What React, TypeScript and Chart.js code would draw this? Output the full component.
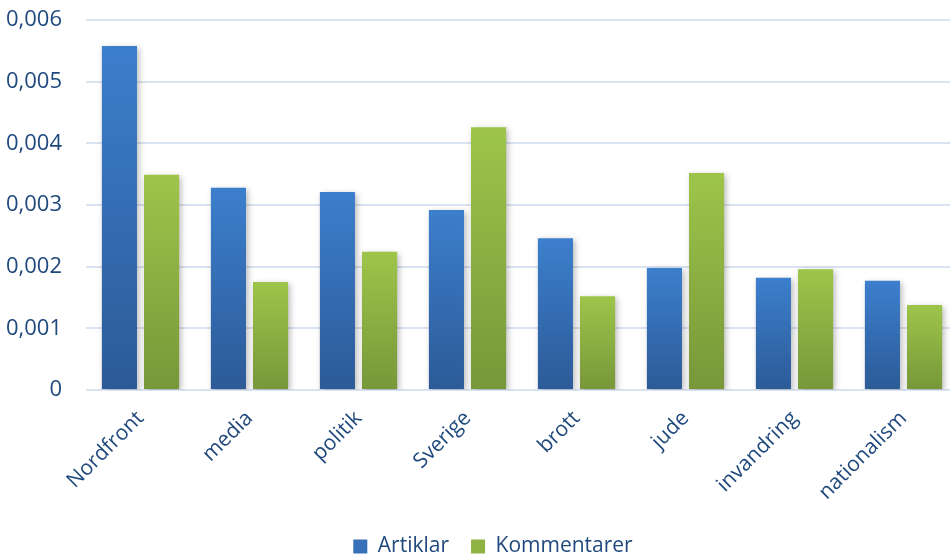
import { useEffect, useRef } from "react"
import { Chart, registerables } from "chart.js"

Chart.register(...registerables)

const categories = ["Nordfront", "media", "politik", "Sverige", "brott", "jude", "invandring", "nationalism"]
const artiklar = [0.00558, 0.00328, 0.00321, 0.00292, 0.00246, 0.00198, 0.00182, 0.00177]
const kommentarer = [0.00349, 0.00175, 0.00224, 0.00426, 0.00152, 0.00352, 0.00196, 0.00138]
const yTicks = [0, 0.001, 0.002, 0.003, 0.004, 0.005, 0.006]

const textColor = "#1f497d"
const fontFamily = "'Open Sans', sans-serif"

// vertical gradient per bar, light on top and darker at the base
function barFill(top: string, bottom: string) {
  return (ctx: any) => {
    const chart = ctx.chart
    const yScale = chart.scales?.y
    if (ctx.type !== "data" || !yScale || !chart.chartArea) return top
    const yTop = yScale.getPixelForValue(ctx.raw)
    const yBase = yScale.getPixelForValue(0)
    const g = chart.ctx.createLinearGradient(0, yTop, 0, yBase)
    g.addColorStop(0, top)
    g.addColorStop(1, bottom)
    return g
  }
}

const shadowPlugin = {
  id: "barShadow",
  beforeDatasetsDraw(chart: Chart) {
    const c = chart.ctx
    c.save()
    c.shadowColor = "rgba(0, 0, 0, 0.28)"
    c.shadowBlur = 6
    c.shadowOffsetX = 2
    c.shadowOffsetY = 2
  },
  afterDatasetsDraw(chart: Chart) {
    chart.ctx.restore()
  },
}

// the original legend sits a bit right of the canvas centre
const legendShift = {
  id: "legendShift",
  afterLayout(chart: any) {
    if (chart.legend) chart.legend.left += 28
  },
}

export default function App() {
  const chartRef = useRef<HTMLCanvasElement>(null)
  const chartInstance = useRef<Chart | null>(null)

  useEffect(() => {
    if (!chartRef.current) return
    if (chartInstance.current) chartInstance.current.destroy()

    chartInstance.current = new Chart(chartRef.current, {
      type: "bar",
      data: {
        labels: categories,
        datasets: [
          {
            label: "Artiklar",
            data: artiklar,
            backgroundColor: barFill("#3c7fcd", "#2c5a97"),
            categoryPercentage: 0.773,
            barPercentage: 0.833,
          },
          {
            label: "Kommentarer",
            data: kommentarer,
            backgroundColor: barFill("#9ec54a", "#779739"),
            categoryPercentage: 0.773,
            barPercentage: 0.833,
          },
        ],
      },
      plugins: [shadowPlugin, legendShift],
      options: {
        animation: false,
        responsive: true,
        maintainAspectRatio: false,
        layout: { padding: 0 },
        plugins: {
          tooltip: { enabled: false },
          legend: {
            position: "bottom",
            labels: {
              color: textColor,
              font: { family: fontFamily, size: 21 },
              boxWidth: 14,
              boxHeight: 14,
              padding: 22,
              generateLabels: (chart: Chart) =>
                chart.data.datasets.map((ds, i) => ({
                  text: ds.label as string,
                  fillStyle: i === 0 ? "#3570b8" : "#8fb243",
                  strokeStyle: "transparent",
                  lineWidth: 0,
                  datasetIndex: i,
                  fontColor: textColor,
                })),
            },
          },
        },
        scales: {
          x: {
            grid: { display: false },
            border: { display: false },
            ticks: {
              color: textColor,
              font: { family: fontFamily, size: 21 },
              maxRotation: 45,
              minRotation: 45,
              padding: 8,
              autoSkip: false,
            },
            afterFit: (scale: any) => {
              scale.height = 124
            },
          },
          y: {
            min: 0,
            max: 0.006,
            afterBuildTicks: (scale: any) => {
              scale.ticks = yTicks.map((v) => ({ value: v }))
            },
            grid: { color: "#d9e3f1", lineWidth: 2, drawTicks: false },
            border: { display: false },
            ticks: {
              color: textColor,
              font: { family: fontFamily, size: 22 },
              padding: 24,
              callback: (value: any) => (value === 0 ? "0" : Number(value).toFixed(3).replace(".", ",")),
            },
            afterFit: (scale: any) => {
              scale.width = 86
              scale.paddingTop = 20
              scale.paddingBottom = 0
            },
          },
        },
      },
    })

    return () => {
      if (chartInstance.current) {
        chartInstance.current.destroy()
        chartInstance.current = null
      }
    }
  }, [])

  return (
    <div style={{ position: "fixed", left: 0, top: 0, width: 950, height: 558, overflow: "hidden", background: "#fff" }}>
      <div style={{ position: "relative", width: 958, height: 567 }}>
        <canvas ref={chartRef}></canvas>
      </div>
    </div>
  )
}
